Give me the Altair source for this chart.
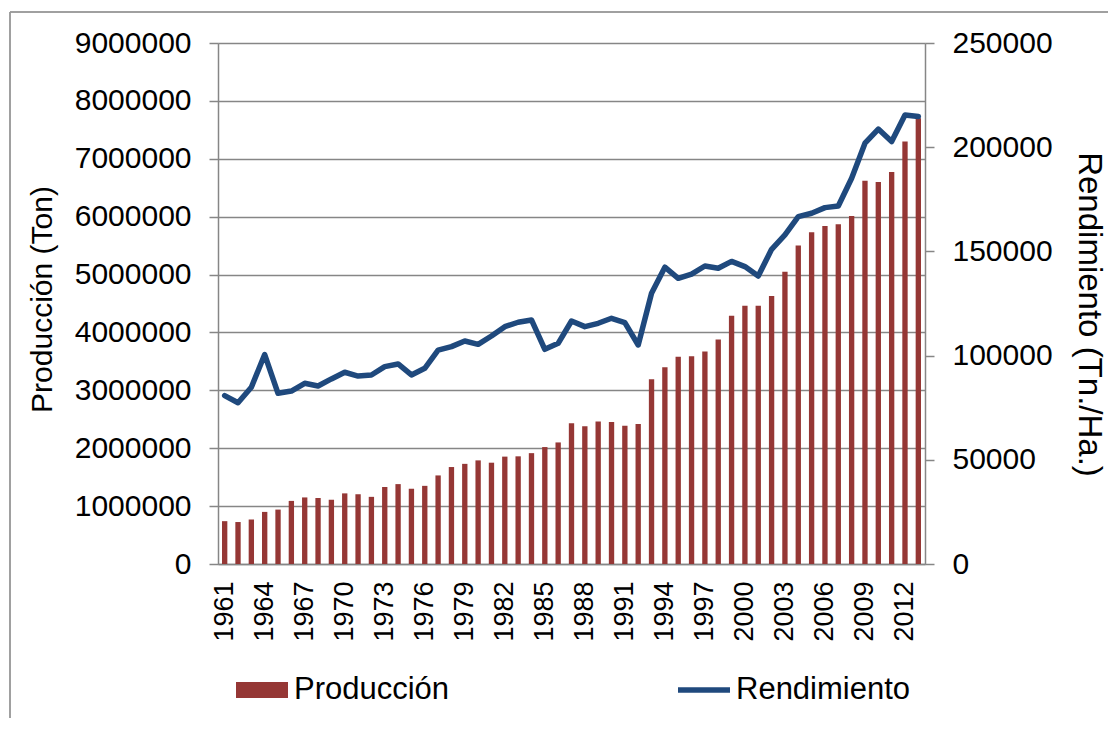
import altair as alt
import pandas as pd

years = [1961, 1962, 1963, 1964, 1965, 1966, 1967, 1968, 1969, 1970,
         1971, 1972, 1973, 1974, 1975, 1976, 1977, 1978, 1979, 1980,
         1981, 1982, 1983, 1984, 1985, 1986, 1987, 1988, 1989, 1990,
         1991, 1992, 1993, 1994, 1995, 1996, 1997, 1998, 1999, 2000,
         2001, 2002, 2003, 2004, 2005, 2006, 2007, 2008, 2009, 2010,
         2011, 2012, 2013]

produccion = [740000, 725000, 770000, 900000, 940000, 1090000, 1150000, 1140000, 1110000, 1220000,
              1205000, 1160000, 1330000, 1380000, 1300000, 1350000, 1530000, 1675000, 1730000, 1790000,
              1750000, 1855000, 1860000, 1915000, 2020000, 2100000, 2430000, 2380000, 2460000, 2455000,
              2390000, 2420000, 3190000, 3400000, 3580000, 3590000, 3670000, 3880000, 4290000, 4460000,
              4460000, 4630000, 5050000, 5500000, 5730000, 5840000, 5870000, 6010000, 6620000, 6600000,
              6770000, 7300000, 7700000]

rendimiento = [80800, 77400, 84800, 100500, 81900, 83000, 86700, 85400, 88800, 92000,
               90200, 90700, 94700, 96000, 90700, 93900, 102600, 104300, 107000, 105400,
               109400, 113900, 116000, 117100, 103000, 105900, 116600, 113900, 115500, 117900,
               115800, 105100, 129900, 142400, 137100, 139100, 143000, 141900, 145200, 142700,
               138200, 151000, 157900, 166700, 168300, 171000, 171800, 185100, 201900, 208700,
               202700, 215500, 214700]

tick_years = [1961, 1964, 1967, 1970, 1973, 1976, 1979, 1982, 1985, 1988,
              1991, 1994, 1997, 2000, 2003, 2006, 2009, 2012]
left_ticks = [0, 1000000, 2000000, 3000000, 4000000, 5000000, 6000000, 7000000, 8000000, 9000000]
right_ticks = [0, 50000, 100000, 150000, 200000, 250000]
series = ["Producción", "Rendimiento"]

df = pd.DataFrame({"anio": years, "produccion": produccion, "rendimiento": rendimiento})
legend_df = pd.DataFrame({"serie": series})

FONT = "Liberation Sans"
GRAY = "#868686"
RED = "#953735"
BLUE = "#1F497D"
RECT_PATH = "M-1,-0.31H1V0.31H-1Z"
LINE_PATH = "M-1,-0.11H1V0.11H-1Z"

x_enc = alt.X(
    "anio:O",
    scale=alt.Scale(paddingInner=0.6, paddingOuter=0.3),
    axis=alt.Axis(values=tick_years, labelAngle=270, labelAlign="right", labelBaseline="middle",
                  labelFontSize=27, labelPadding=17, ticks=False, domainColor=GRAY, domainWidth=1.5,
                  title=None, grid=False, labelFont=FONT, labelColor="black"),
)

bars = alt.Chart(df).mark_bar(color=RED).encode(
    x=x_enc,
    y=alt.Y("produccion:Q", scale=alt.Scale(domain=[0, 9000000], nice=False),
            axis=alt.Axis(values=left_ticks, format="d", title="Producción (Ton)", orient="left",
                          grid=True, gridColor=GRAY, gridWidth=1.5, tickSize=9, tickColor=GRAY,
                          tickWidth=1.5, domainColor=GRAY, domainWidth=1.5, labelFontSize=30,
                          labelPadding=18, labelFont=FONT, labelColor="black",
                          titleFont=FONT, titleFontSize=30, titleFontWeight="normal", titleColor="black",
                          titleX=-176, titleY=256, titleAngle=270, titleAlign="center",
                          titleBaseline="middle")),
)

line = alt.Chart(df).mark_line(color=BLUE, strokeWidth=5.5, strokeCap="round", strokeJoin="round").encode(
    x=alt.X("anio:O"),
    y=alt.Y("rendimiento:Q", scale=alt.Scale(domain=[0, 250000], nice=False),
            axis=alt.Axis(values=right_ticks, format="d", title="Rendimiento (Tn./Ha.)", orient="right",
                          grid=False, tickSize=9, tickColor=GRAY, tickWidth=1.5, domainColor=GRAY,
                          domainWidth=1.5, labelFontSize=30, labelPadding=18, labelFont=FONT,
                          labelColor="black", titleFont=FONT, titleFontSize=33, titleFontWeight="normal",
                          titleColor="black", titleX=163, titleY=271, titleAngle=90,
                          titleAlign="center", titleBaseline="middle")),
)

legend_def = alt.Legend(title=None, orient="none", legendX=18, legendY=621, direction="horizontal",
                        labelFont=FONT, labelFontSize=31, labelColor="black", labelLimit=0,
                        symbolSize=2704, symbolStrokeWidth=0, symbolOpacity=1, columnPadding=228,
                        labelOffset=6, padding=0, symbolOffset=0)

leg = alt.Chart(legend_df).mark_point(filled=True, opacity=0, size=0).encode(
    x=alt.value(0),
    y=alt.value(0),
    color=alt.Color("serie:N", scale=alt.Scale(domain=series, range=[RED, BLUE]), legend=legend_def),
    shape=alt.Shape("serie:N", scale=alt.Scale(domain=series, range=[RECT_PATH, LINE_PATH]), legend=legend_def),
)

frame_top = alt.Chart(legend_df).mark_rule(color="#9a9a9a", strokeWidth=1.5).encode(
    x=alt.value(-208), x2=alt.value(900), y=alt.value(-31)
)
frame_left = alt.Chart(legend_df).mark_rule(color="#9a9a9a", strokeWidth=1.5).encode(
    x=alt.value(-208), y=alt.value(-31), y2=alt.value(700)
)

chart = alt.layer(bars, line, leg, frame_top, frame_left).resolve_scale(y="independent").properties(
    width=707,
    height=521,
    autosize=alt.AutoSizeParams(type="none"),
    padding={"left": 210, "top": 35, "right": 183, "bottom": 154},
).configure_view(stroke=None).configure(font=FONT)

chart.save("out.html", embed_options={"renderer": "svg", "actions": False})
